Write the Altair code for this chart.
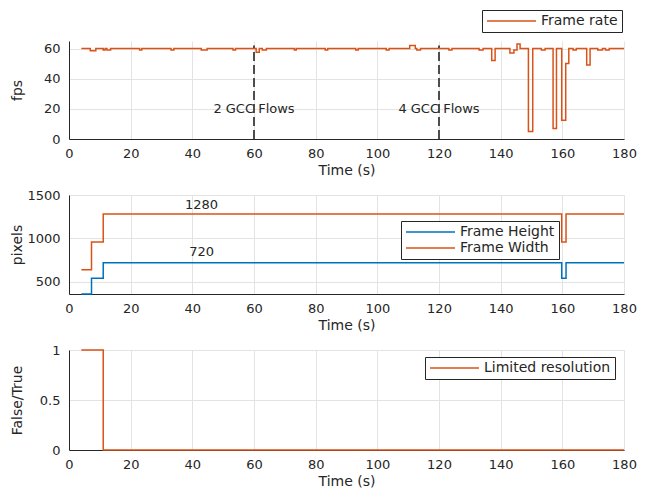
import altair as alt
import pandas as pd

# ---- data ----
fr_time = [4, 6.9, 8.7, 11.1, 11.7, 12.3, 13.5, 22.9, 23.6, 33.1, 34, 42.9, 44.8,
           53.2, 54, 60.7, 61.7, 62.7, 64, 73.1, 73.7, 83.1, 83.9, 93, 93.8,
           102.9, 103.8, 110.5, 112.3, 112.8, 114, 123.2, 124.2, 133, 134.3,
           137.1, 138.2, 143, 144.3, 145.3, 146.3, 149, 150.4, 153.2, 154.4,
           157, 158.1, 159.8, 161.1, 162.1, 163.5, 164.5, 167.9, 169, 171.5,
           173, 174, 175.2, 180]
fr_value = [60, 58.5, 60, 59, 60, 59, 60, 59, 60, 59, 60, 59, 60,
            59, 60, 57.5, 60, 59, 60, 59, 60, 59, 60, 59, 60,
            59, 60, 62, 60, 59, 60, 59, 60, 59, 60,
            52, 60, 57, 59, 63, 60, 5, 60, 59, 60,
            7, 60, 12.5, 50, 60, 59, 60, 49, 60, 59,
            60, 59, 60, 60]

res_time = [4, 7.3, 11.1, 159.8, 161.2, 180]
width_value = [640, 960, 1280, 960, 1280, 1280]
height_value = [360, 540, 720, 540, 720, 720]

lim_time = [4, 11.1, 180]
lim_value = [1, 0, 0]

flow_times = [60, 120]
flow_labels = ["2 GCC Flows", "4 GCC Flows"]
res_labels = ["1280", "720"]
res_label_values = [1380, 845]

ORANGE = "#D95319"
BLUE = "#0072BD"
FONT = "DejaVu Sans"
W, H = 555, 98

fr_df = pd.DataFrame({"t": fr_time, "v": fr_value, "s": "Frame rate"})
res_df = pd.concat([
    pd.DataFrame({"t": res_time, "v": height_value, "s": "Frame Height"}),
    pd.DataFrame({"t": res_time, "v": width_value, "s": "Frame Width"}),
])
lim_df = pd.DataFrame({"t": lim_time, "v": lim_value, "s": "Limited resolution"})
flow_rule_df = pd.DataFrame({"t": flow_times, "v": 0, "v2": 62})
flow_text_df = pd.DataFrame({"t": flow_times, "v": 20, "label": flow_labels})
rl_df = pd.DataFrame({"t": [43, 43], "v": res_label_values, "label": res_labels})

xscale = alt.Scale(domain=[0, 180], nice=False, zero=False)
xaxis = alt.Axis(title="Time (s)", values=list(range(0, 181, 20)), grid=True,
                 labelFlush=False, minExtent=22, maxExtent=22, titlePadding=2)


def yaxis(title, values, fmt="d"):
    return alt.Axis(title=title, values=values, format=fmt, minExtent=37,
                    maxExtent=37, titlePadding=8, labelFlush=False)


def legend(x, y):
    return alt.Legend(title=None, orient="none", legendX=x, legendY=y,
                      symbolType="M-4.9,0H4.9", symbolSize=100, symbolStrokeWidth=1.5,
                      symbolOffset=18.5, labelOffset=22.5,
                      strokeColor="#262626", fillColor="white", padding=4,
                      labelFontSize=14, labelFont=FONT, labelColor="#262626",
                      rowPadding=2, cornerRadius=0)


X = alt.X("t:Q", scale=xscale, axis=xaxis)

# panel 1
y1s = alt.Scale(domain=[0, 65], nice=False)
y1a = yaxis("fps", [0, 20, 40, 60])
p1_line = alt.Chart(fr_df).mark_line(interpolate="step-after", strokeWidth=1.5).encode(
    x=X, y=alt.Y("v:Q", scale=y1s, axis=y1a),
    color=alt.Color("s:N", scale=alt.Scale(domain=["Frame rate"], range=[ORANGE]),
                    legend=legend(413, -31)),
)
p1_rule = alt.Chart(flow_rule_df).mark_rule(color="#4d4d4d", strokeWidth=2,
                                            strokeDash=[9, 4]).encode(
    x=X, y=alt.Y("v:Q", scale=y1s, axis=y1a), y2="v2:Q")
p1_text = alt.Chart(flow_text_df).mark_text(font=FONT, fontSize=13, color="#262626",
                                            dx=0).encode(
    x=X, y=alt.Y("v:Q", scale=y1s, axis=y1a), text="label:N")
p1 = alt.layer(p1_line, p1_rule, p1_text).properties(width=W, height=H)

# panel 2
y2s = alt.Scale(domain=[360, 1500], nice=False, zero=False)
y2a = yaxis("pixels", [500, 1000, 1500])
p2_line = alt.Chart(res_df).mark_line(interpolate="step-after", strokeWidth=1.5).encode(
    x=X, y=alt.Y("v:Q", scale=y2s, axis=y2a),
    color=alt.Color("s:N", scale=alt.Scale(domain=["Frame Height", "Frame Width"],
                                           range=[BLUE, ORANGE]),
                    legend=legend(332, 26)),
)
p2_text = alt.Chart(rl_df).mark_text(font=FONT, fontSize=13, color="#262626").encode(
    x=X, y=alt.Y("v:Q", scale=y2s, axis=y2a), text="label:N")
p2 = alt.layer(p2_line, p2_text).properties(width=W, height=H + 1)

# panel 3
p3 = alt.Chart(lim_df).mark_line(interpolate="step-after", strokeWidth=1.5).encode(
    x=X,
    y=alt.Y("v:Q", scale=alt.Scale(domain=[0, 1], nice=False),
            axis=yaxis("False/True", [0, 0.5, 1], "~g")),
    color=alt.Color("s:N", scale=alt.Scale(domain=["Limited resolution"], range=[ORANGE]),
                    legend=legend(356, 7)),
).properties(width=W, height=H + 2)

chart = alt.vconcat(p1, p2, p3, spacing=12).resolve_scale(
    color="independent").resolve_legend(color="independent").properties(
    padding={"left": 10, "top": 9, "right": 5, "bottom": 5}
).configure_view(stroke=None).configure_axis(
    labelFont=FONT, titleFont=FONT, labelFontSize=13, titleFontSize=14,
    labelColor="#262626", titleColor="#262626", titleFontWeight="normal",
    domainColor="#262626", domainWidth=1, gridColor="#e3e3e3", tickSize=0,
    labelPadding=8
).configure_axisY(labelPadding=9)

chart.save("out.html", embed_options={"renderer": "svg", "actions": False})
